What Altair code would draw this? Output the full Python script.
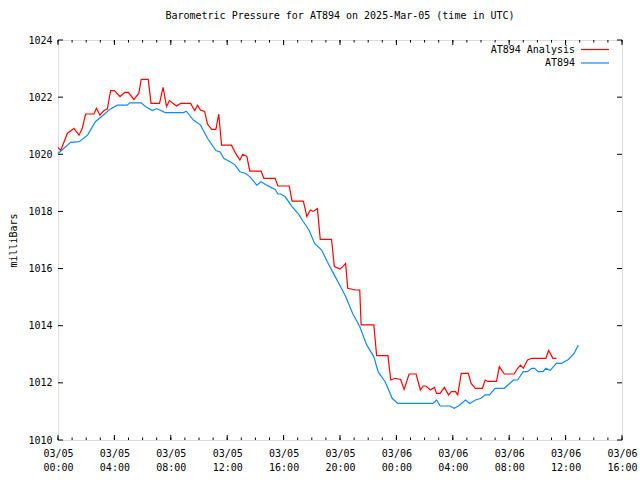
import altair as alt
import pandas as pd

TITLE = "Barometric Pressure for AT894 on 2025-Mar-05 (time in UTC)"
series_names = ["AT894 Analysis", "AT894"]
series_colors = ["#ff0000", "#1188ee"]

# hours since 03/05 00:00 UTC and pressure in milliBars
analysis_h = [0.0, 0.19, 0.66, 1.13, 1.49, 1.72, 1.96, 2.55, 2.73, 2.97, 3.26, 3.5, 3.73, 4.0, 4.4, 4.75,
              4.99, 5.38, 5.73, 5.9, 6.4, 6.6, 7.2, 7.45, 7.7, 7.9, 8.4, 8.7, 9.4, 9.7, 9.9, 10.1, 10.4,
              10.6, 10.9, 11.2, 11.4, 11.6, 12.3, 12.6, 12.9, 13.1, 13.4, 13.6, 14.4, 14.6, 15.4, 15.6,
              16.4, 16.6, 17.4, 17.65, 17.9, 18.1, 18.4, 18.6, 19.4, 19.6, 20.0, 20.2, 20.4, 20.55, 21.1,
              21.4, 21.5, 22.4, 22.6, 23.4, 23.6, 23.9, 24.3, 24.55, 24.9, 25.4, 25.7, 25.9, 26.1, 26.4,
              26.7, 26.85, 27.1, 27.4, 27.7, 27.9, 28.2, 28.35, 28.6, 29.1, 29.3, 29.6, 30.1, 30.3, 30.5,
              31.1, 31.3, 31.65, 32.35, 32.6, 32.8, 33.0, 33.3, 33.6, 34.6, 34.8, 35.1, 35.35]
analysis_v = [1020.24, 1020.13, 1020.73, 1020.91, 1020.67, 1020.91, 1021.41, 1021.41, 1021.61, 1021.37,
              1021.53, 1021.58, 1022.23, 1022.23, 1022.02, 1022.17, 1022.17, 1021.92, 1022.13, 1022.62,
              1022.62, 1021.78, 1021.78, 1022.34, 1021.67, 1021.88, 1021.69, 1021.78, 1021.78, 1021.53,
              1021.72, 1021.55, 1021.50, 1021.06, 1020.87, 1020.87, 1021.41, 1020.32, 1020.32, 1020.03,
              1019.80, 1020.00, 1019.92, 1019.41, 1019.41, 1019.16, 1019.16, 1018.89, 1018.89, 1018.36,
              1018.36, 1017.82, 1018.05, 1018.00, 1018.10, 1017.02, 1017.02, 1016.07, 1015.98, 1016.07,
              1016.18, 1015.31, 1015.25, 1015.25, 1014.03, 1014.03, 1012.95, 1012.95, 1012.10, 1012.16,
              1012.12, 1011.77, 1012.31, 1012.31, 1011.75, 1011.89, 1011.89, 1011.75, 1011.84, 1011.63,
              1011.63, 1011.84, 1011.58, 1011.69, 1011.69, 1011.58, 1012.33, 1012.33, 1011.98, 1011.81,
              1011.81, 1012.10, 1012.05, 1012.05, 1012.57, 1012.31, 1012.31, 1012.51, 1012.62, 1012.51,
              1012.80, 1012.86, 1012.86, 1013.13, 1012.86, 1012.86]

station_h = [0.0, 0.9, 1.5, 2.1, 2.65, 3.3, 3.7, 4.2, 4.9, 5.1, 5.9, 6.2, 6.7, 7.0, 7.6, 8.9, 9.1, 9.6,
             10.1, 10.6, 11.2, 11.5, 11.75, 12.2, 12.55, 12.9, 13.3, 13.6, 14.1, 14.4, 14.8, 15.4, 15.6,
             15.8, 16.1, 16.6, 17.1, 17.4, 17.8, 18.2, 18.7, 19.1, 19.6, 20.1, 20.4, 20.9, 21.4, 21.9,
             22.4, 22.7, 23.2, 23.7, 24.1, 26.6, 26.85, 27.1, 27.8, 28.1, 28.4, 28.9, 29.2, 29.6, 30.0,
             30.3, 30.6, 31.0, 31.65, 32.3, 32.6, 33.0, 33.3, 33.6, 33.8, 34.05, 34.4, 34.6, 34.9, 35.35,
             35.7, 36.2, 36.6, 36.9]
station_v = [1020.03, 1020.42, 1020.44, 1020.67, 1021.14, 1021.41, 1021.58, 1021.72, 1021.72, 1021.80,
             1021.80, 1021.67, 1021.53, 1021.60, 1021.46, 1021.46, 1021.51, 1021.20, 1021.03, 1020.56,
             1020.13, 1020.08, 1019.86, 1019.74, 1019.63, 1019.39, 1019.33, 1019.22, 1018.92, 1019.04,
             1018.92, 1018.77, 1018.61, 1018.61, 1018.52, 1018.17, 1017.88, 1017.64, 1017.35, 1016.88,
             1016.65, 1016.24, 1015.77, 1015.31, 1015.02, 1014.43, 1013.97, 1013.32, 1012.92, 1012.39,
             1012.04, 1011.46, 1011.28, 1011.28, 1011.40, 1011.19, 1011.19, 1011.11, 1011.19, 1011.40,
             1011.28, 1011.40, 1011.46, 1011.58, 1011.58, 1011.81, 1011.81, 1012.10, 1012.10, 1012.39,
             1012.39, 1012.51, 1012.51, 1012.39, 1012.39, 1012.51, 1012.43, 1012.68, 1012.68, 1012.82,
             1013.03, 1013.32]

x_major = list(range(0, 41, 4))
x_minor = list(range(0, 41, 1))
y_major = list(range(1010, 1025, 2))

FONT = "DejaVu Sans Mono"
W, H = 564, 400

df = pd.concat([
    pd.DataFrame({"h": analysis_h, "p": analysis_v, "series": series_names[0]}),
    pd.DataFrame({"h": station_h, "p": station_v, "series": series_names[1]}),
])

xscale = alt.Scale(domain=[0, 40], nice=False, zero=False)
yscale = alt.Scale(domain=[1010, 1024], nice=False, zero=False)

label_expr = ("['03/0' + (datum.value < 24 ? '5' : '6'), "
              "(floor(datum.value % 24) < 10 ? '0' : '') + floor(datum.value % 24) + ':00']")

xaxis = alt.Axis(values=x_major, labelExpr=label_expr, ticks=False, domain=False, grid=False,
                 title=None, labelFont=FONT, labelFontSize=10, labelPadding=8,
                 labelLineHeight=14, labelColor="black", labelFlush=False)
yaxis = alt.Axis(values=y_major, format="d", ticks=False, domain=False, grid=False, title="milliBars",
                 labelFont=FONT, labelFontSize=10, labelPadding=6, labelColor="black",
                 titleFont=FONT, titleFontSize=10, titleFontWeight="normal",
                 titleColor="black", titlePadding=9)

lines = alt.Chart(df).mark_line(strokeWidth=1.2, interpolate="linear").encode(
    x=alt.X("h:Q", scale=xscale, axis=xaxis),
    y=alt.Y("p:Q", scale=yscale, axis=yaxis),
    color=alt.Color("series:N", scale=alt.Scale(domain=series_names, range=series_colors), legend=None),
    detail="series:N",
)

# inward ticks (gnuplot style)
xmaj = pd.DataFrame({"h": x_major})
xmin = pd.DataFrame({"h": x_minor})
ymaj = pd.DataFrame({"p": y_major})

def xticks(d, length):
    bottom = alt.Chart(d).mark_rule(color="black", strokeWidth=1).encode(
        x=alt.X("h:Q", scale=xscale, axis=xaxis), y=alt.value(H), y2=alt.value(H - length))
    top = alt.Chart(d).mark_rule(color="black", strokeWidth=1).encode(
        x=alt.X("h:Q", scale=xscale, axis=xaxis), y=alt.value(0), y2=alt.value(length))
    return [bottom, top]

yleft = alt.Chart(ymaj).mark_rule(color="black", strokeWidth=1).encode(
    y=alt.Y("p:Q", scale=yscale, axis=yaxis), x=alt.value(0), x2=alt.value(5))
yright = alt.Chart(ymaj).mark_rule(color="black", strokeWidth=1).encode(
    y=alt.Y("p:Q", scale=yscale, axis=yaxis), x=alt.value(W), x2=alt.value(W - 5))

# key (label left of the line sample, as in gnuplot)
key_layers = []
for i, (name, col) in enumerate(zip(series_names, series_colors)):
    kd = pd.DataFrame({"name": [name]})
    ky = 9.5 + i * 13.5
    key_layers.append(alt.Chart(kd).mark_text(font=FONT, fontSize=10, align="right", baseline="middle",
                                              color="black").encode(
        text="name:N", x=alt.value(W - 47), y=alt.value(ky)))
    key_layers.append(alt.Chart(kd).mark_rule(color=col, strokeWidth=1.2).encode(
        x=alt.value(W - 41), x2=alt.value(W - 13), y=alt.value(ky)))

chart = alt.layer(
    lines, *xticks(xmaj, 5), *xticks(xmin, 2.5), yleft, yright, *key_layers
).properties(
    width=W, height=H,
    title=alt.TitleParams(TITLE, font=FONT, fontSize=10, fontWeight="normal", anchor="middle",
                          color="black", offset=14),
    padding={"left": 58, "top": 40, "right": 18, "bottom": 40},
    autosize=alt.AutoSizeParams(type="none"),
).configure_view(stroke="black", strokeWidth=1).configure(background="white")

chart.save("out.html", embed_options={"renderer": "svg", "actions": False})
